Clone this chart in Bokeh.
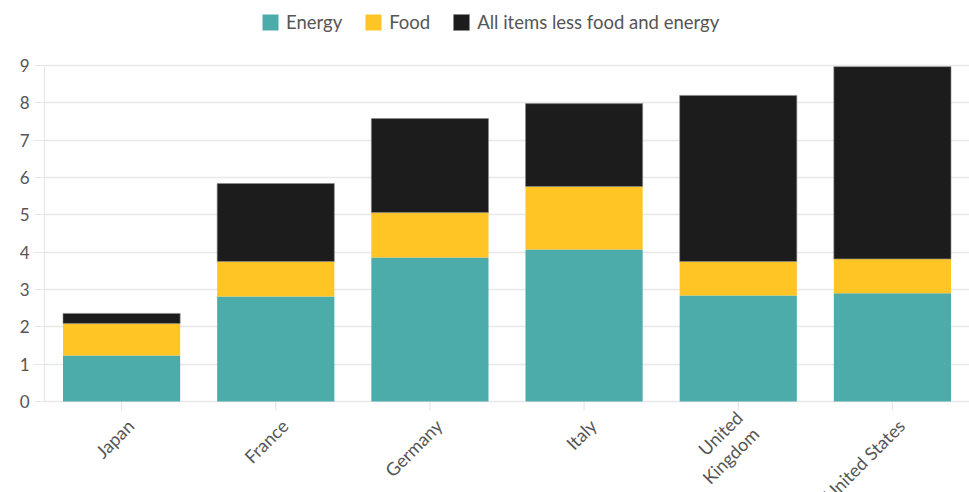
import math
from bokeh.plotting import figure
from bokeh.models import (ColumnDataSource, Legend, LegendItem, FactorRange, Range1d,
                          FixedTicker)
from bokeh.core.properties import value
from bokeh.embed import file_html
from bokeh.resources import INLINE

countries = ["Japan", "France", "Germany", "Italy", "United Kingdom", "United States"]
tick_labels = ["Japan", "France", "Germany", "Italy", "United\nKingdom", "United States"]
energy = [1.23, 2.81, 3.86, 4.07, 2.84, 2.90]
food = [0.86, 0.94, 1.20, 1.69, 0.91, 0.92]
core = [0.27, 2.09, 2.52, 2.22, 4.45, 5.15]
series = ["Energy", "Food", "All items less food and energy"]
y_ticks = [0, 1, 2, 3, 4, 5, 6, 7, 8, 9]
colors = ["#4bacaa", "#fec524", "#1c1c1c"]

source = ColumnDataSource(dict(country=countries, energy=energy, food=food, core=core,
                               label=tick_labels, base=[0] * len(countries)))

FONT = "Lato"
TEXT = "#555555"
GRID = "#e6e6e6"
PX_PER_UNIT = 37.33          # vertical scale of the original
p = figure(width=969, height=492, output_backend="svg", toolbar_location=None,
           x_range=FactorRange(factors=countries, range_padding=0),
           y_range=Range1d(-91 / PX_PER_UNIT, 401 / PX_PER_UNIT),
           min_border_left=44, min_border_right=0, min_border_top=0, min_border_bottom=0)
p.outline_line_color = None
p.xaxis.visible = False

# category tick marks (upper half hidden behind the bars)
p.scatter(x="country", y="base", source=source, marker="dash", size=18, angle=math.pi / 2,
          line_color=GRID, line_width=1.2)

renderers = p.vbar_stack(["energy", "food", "core"], x="country", width=0.76, source=source,
                         color=colors, line_color=[colors[0], colors[1], "#8a8a8a"],
                         line_width=[0, 0, 0.6])

# rotated category labels
p.text(x="country", y="base", text="label", source=source, angle=math.pi / 4,
       x_offset=9, y_offset=21, text_align="right", text_baseline="middle",
       text_font=value(FONT), text_font_size="18px", text_color=TEXT, text_line_height=1.05)

legend = Legend(items=[LegendItem(label=s, renderers=[r]) for s, r in zip(series, renderers)],
                orientation="horizontal", location=(216, 459),
                label_text_font=FONT, label_text_font_size="18.5px", label_text_color=TEXT,
                glyph_width=20, glyph_height=20, label_standoff=6, spacing=21,
                padding=0, margin=0, border_line_color=None, background_fill_alpha=0)
p.add_layout(legend, "center")

# y axis
p.yaxis.ticker = FixedTicker(ticks=y_ticks)
p.yaxis.bounds = (y_ticks[0], y_ticks[-1])
p.yaxis.axis_line_color = GRID
p.yaxis.major_tick_line_color = GRID
p.yaxis.major_tick_out = 10
p.yaxis.major_tick_in = 0
p.yaxis.minor_tick_line_color = None
p.yaxis.major_label_text_font = FONT
p.yaxis.major_label_text_font_size = "17px"
p.yaxis.major_label_text_color = TEXT
p.yaxis.major_label_standoff = 5

p.xgrid.grid_line_color = None
p.ygrid.grid_line_color = "#e8e8e8"
p.ygrid.grid_line_width = 1.5

open("out.html", "w").write(file_html(p, INLINE))
